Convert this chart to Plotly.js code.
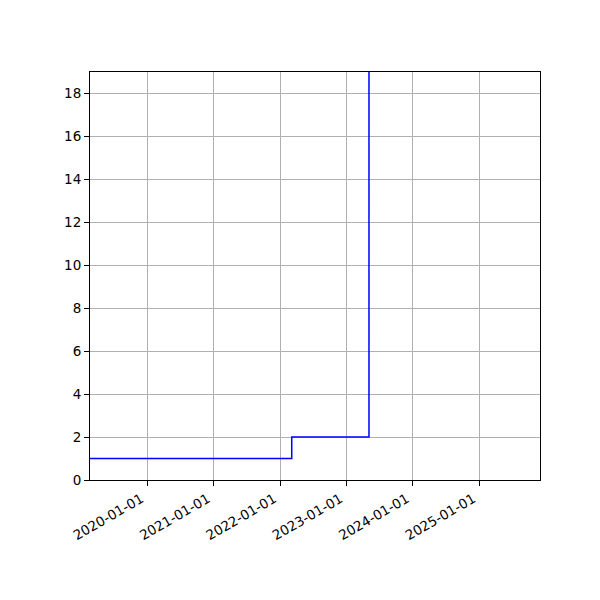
<!DOCTYPE html>
<html>
<head>
<meta charset="utf-8">
<script src="https://cdn.plot.ly/plotly-3.0.1.min.js"></script>
<style>
  html, body { margin: 0; padding: 0; background: #fff; }
  #graph { width: 600px; height: 600px; }
</style>
</head>
<body>
<div id="graph"></div>
<script>
// step series (drawn as post-steps)
const dates = ["2019-02-20", "2022-03-06", "2023-05-05", "2025-12-01"];
const counts = [1, 2, 60, 60];

const tick_dates = ["2020-01-01", "2021-01-01", "2022-01-01", "2023-01-01", "2024-01-01", "2025-01-01"];
const y_ticks = [0, 2, 4, 6, 8, 10, 12, 14, 16, 18];

const axis_style = {showline: true, linecolor: "#000", linewidth: 1, mirror: true,
    ticks: "outside", ticklen: 5, tickcolor: "#000", tickwidth: 1,
    showgrid: true, gridcolor: "#b0b0b0", gridwidth: 1, zeroline: false};

const graph_traces = [{x: dates, y: counts, mode: "lines", line: {color: "#0000ff", width: 1.5, shape: "hv"}, hoverinfo: "skip"}];

const graph_layout = {width: 600, height: 600, showlegend: false,
    paper_bgcolor: "#fff", plot_bgcolor: "#fff",
    font: {family: "DejaVu Sans", size: 13.5, color: "#000"},
    margin: {l: 90, r: 60, t: 72, b: 120},
    xaxis: Object.assign({}, axis_style, {type: "date", range: ["2019-02-20", "2025-12-01"],
        tickvals: tick_dates, ticktext: tick_dates, tickangle: -30, ticklabelshift: -6}),
    yaxis: Object.assign({}, axis_style, {range: [0, 19], tickvals: y_ticks})};

Plotly.newPlot('graph', graph_traces, graph_layout, {staticPlot: true, displayModeBar: false});
</script>
</body>
</html>
